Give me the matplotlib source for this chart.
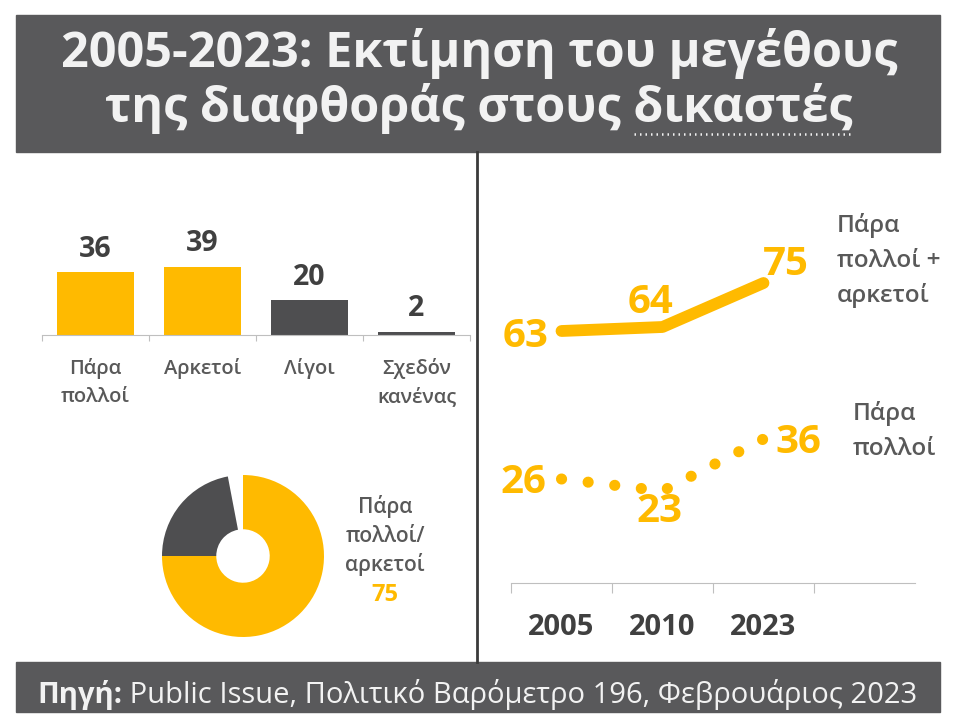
import matplotlib
matplotlib.use("Agg")
import matplotlib.pyplot as plt
from matplotlib.patches import Rectangle
from matplotlib.transforms import blended_transform_factory as blend

plt.rcParams['font.family'] = ['Open Sans', 'DejaVu Sans']

W, H = 960, 722

# Δεδομένα
bar_labels = [['Πάρα', 'πολλοί'], ['Αρκετοί'], ['Λίγοι'], ['Σχεδόν', 'κανένας']]
bar_values = [36, 39, 20, 2]
donut_values = [75, 22, 3]
years = ['2005', '2010', '2023']
both_values = [63, 64, 75]   # Πάρα πολλοί + αρκετοί
very_values = [26, 23, 36]   # Πάρα πολλοί

title1 = '2005-2023: Εκτίμηση του μεγέθους'
title2 = 'της διαφθοράς στους δικαστές'
source_bold = 'Πηγή:'
source_rest = ' Public Issue, Πολιτικό Βαρόμετρο 196, Φεβρουάριος 2023'

YELLOW = '#FFBA00'
DARK = '#4E4E50'
BANNER = '#59595B'
TXT = '#595959'
NUM = '#404040'
LIGHT = '#F2F2F2'
AXIS = '#BFBFBF'
SEMI = 'semibold'

fig = plt.figure(figsize=(W / 100, H / 100), dpi=100)
bg = fig.add_axes([0, 0, 1, 1])
bg.set_xlim(0, W)
bg.set_ylim(H, 0)
bg.axis('off')


def box(x0, y0, x1, y1):
    return [x0 / W, 1 - y1 / H, (x1 - x0) / W, (y1 - y0) / H]


# Μπάνερ τίτλου και πηγής
bg.add_patch(Rectangle((16, 15), 924, 137, color=BANNER))
bg.add_patch(Rectangle((16, 662), 924, 50, color=BANNER))
bg.plot([477, 477], [152, 662], color='#3A3A3A', lw=2)

bg.text(479, 67, title1, ha='center', va='baseline', fontsize=35,
        weight='bold', color=LIGHT)
t2 = bg.text(479, 122, title2, ha='center', va='baseline', fontsize=35,
             weight='bold', color=LIGHT)
tsrc = bg.text(37, 703, source_bold, ha='left', va='baseline', fontsize=21,
               weight='bold', color=LIGHT)

# Ραβδόγραμμα
ax1 = fig.add_axes(box(42, 200, 470, 335))
ax1.patch.set_alpha(0)
ax1.set_xlim(-0.5, 3.5)
ax1.set_ylim(0, 135 / 1.75)
ax1.bar(range(4), bar_values, width=0.72,
        color=[YELLOW, YELLOW, DARK, DARK])
for s in ['top', 'right', 'left']:
    ax1.spines[s].set_visible(False)
ax1.spines['bottom'].set_color(AXIS)
ax1.set_yticks([])
ax1.set_xticks([-0.5, 0.5, 1.5, 2.5, 3.5])
ax1.set_xticklabels([])
ax1.tick_params(axis='x', length=4.5, color=AXIS, direction='out')
for i, v in enumerate(bar_values):
    ax1.annotate(str(v), (i, v), xytext=(0, 11), textcoords='offset points',
                 ha='center', va='baseline', fontsize=20.5, weight='bold',
                 color=NUM)
tr1 = blend(ax1.transData, bg.transData)
for i, lines in enumerate(bar_labels):
    for j, s in enumerate(lines):
        ax1.text(i, 374 + 28 * j, s, transform=tr1, ha='center',
                 va='baseline', fontsize=14.5, weight=SEMI, color=TXT)

# Ντόνατ
ax2 = fig.add_axes(box(162, 475, 324, 637))
ax2.pie(donut_values, colors=[YELLOW, DARK, 'none'], startangle=90,
        counterclock=False, radius=1,
        wedgeprops=dict(width=0.67, edgecolor='none'))
ax2.set_xlim(-1, 1)
ax2.set_ylim(-1, 1)
for j, s in enumerate(['Πάρα', 'πολλοί/', 'αρκετοί']):
    bg.text(385, 513 + 29 * j, s, ha='center', va='baseline',
            fontsize=15, weight=SEMI, color=TXT)
bg.text(385, 601, str(donut_values[0]), ha='center', va='baseline',
        fontsize=17, weight='bold', color=YELLOW)

# Γραμμικό
ax3 = fig.add_axes(box(511, 200, 915, 583))
ax3.patch.set_alpha(0)
ax3.set_xlim(-0.5, 3.5)
ax3.set_ylim(0, 383 / 4)
for s in ['top', 'right', 'left']:
    ax3.spines[s].set_visible(False)
ax3.spines['bottom'].set_color(AXIS)
ax3.set_yticks([])
ax3.set_xticks([-0.5, 0.5, 1.5, 2.5])
ax3.set_xticklabels([])
ax3.tick_params(axis='x', length=7.5, color=AXIS, direction='out')

x = list(range(len(years)))
ax3.plot(x, both_values, color=YELLOW, lw=8.5, solid_capstyle='round',
         solid_joinstyle='round', clip_on=False)
ax3.plot(x, very_values, color=YELLOW, lw=8, linestyle=(0, (0.01, 2.4)),
         dash_capstyle='round', clip_on=False)

both_off = [(-36, 16), (-12, -14), (22, -8)]
very_off = [(-38, 14), (-3, 31), (35, 14)]
for vals, offs in [(both_values, both_off), (very_values, very_off)]:
    for i, (v, (dx, dy)) in enumerate(zip(vals, offs)):
        ax3.annotate(str(v), (i, v), xytext=(dx * 0.72, -dy * 0.72),
                     textcoords='offset points', ha='center', va='baseline',
                     fontsize=29, weight='bold', color=YELLOW)

tr3 = blend(ax3.transData, bg.transData)
for i, yr in enumerate(years):
    ax3.text(i, 635, yr, transform=tr3, ha='center', va='baseline',
             fontsize=21, weight='bold', color=NUM)

for j, s in enumerate(['Πάρα', 'πολλοί +', 'αρκετοί']):
    bg.text(837, 232 + 35 * j, s, ha='left', va='baseline', fontsize=17.5,
            weight=SEMI, color=TXT)
for j, s in enumerate(['Πάρα', 'πολλοί']):
    bg.text(853, 420 + 35 * j, s, ha='left', va='baseline', fontsize=17.5,
            weight=SEMI, color=TXT)

# Υπογράμμιση και υπόλοιπο κείμενο πηγής (μετρήσεις κειμένου)
fig.canvas.draw()
r = fig.canvas.get_renderer()
e2 = t2.get_window_extent(r)
tmp = bg.text(0, 0, 'δικαστές', fontsize=35, weight='bold')
w = tmp.get_window_extent(r).width
tmp.remove()
bg.plot([e2.x1 - w, e2.x1], [134, 134], color=LIGHT, lw=1.8,
        linestyle=(0, (0.6, 1.6)))
es = tsrc.get_window_extent(r)
bg.text(es.x1, 703, source_rest, ha='left', va='baseline', fontsize=21,
        color=LIGHT)

fig.savefig('out.png', dpi=100)
